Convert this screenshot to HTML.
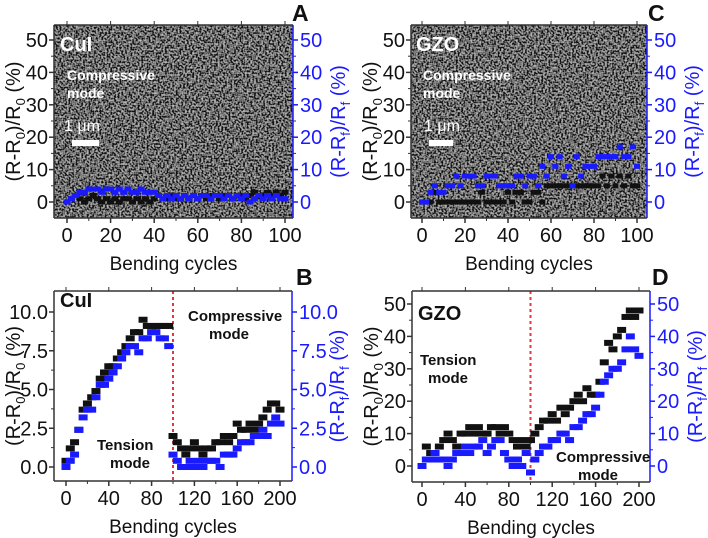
<!DOCTYPE html>
<html><head><meta charset="utf-8">
<style>
html,body{margin:0;padding:0;background:#fff;}
svg{display:block;font-family:"Liberation Sans",Arial,sans-serif;}
</style></head>
<body>
<svg id="fig" width="708" height="538" viewBox="0 0 708 538" xmlns="http://www.w3.org/2000/svg">
<defs>
<filter id="sem" x="0" y="0" width="100%" height="100%">
<feTurbulence type="fractalNoise" baseFrequency="0.55" numOctaves="1" seed="3"/>
<feColorMatrix type="matrix" values="2.6 0 0 0 -1.05  2.6 0 0 0 -1.05  2.6 0 0 0 -1.05  0 0 0 0 1"/>
</filter>
</defs>
</svg>
<script>
// Panel A (CuI, 0..100 step 2)
const aX = [0,2,4,6,8,10,12,14,16,18,20,22,24,26,28,30,32,34,36,38,40,42,44,46,48,50,52,54,56,58,60,62,64,66,68,70,72,74,76,78,80,82,84,86,88,90,92,94,96,98,100];
const aBlack = [0,1,2,1,0,1,2,1,0,1,0,1,0,1,1,0,1,0,1,0,1,2,1,1,2,1,1,2,1,2,1,2,1,2,2,1,2,2,1,2,2,1,2,3,2,2,3,2,3,2,3];
const aBlue = [0,1,2,3,3,4,4,4,3,4,4,3,4,3,4,3,3,4,3,3,3,2,1,2,1,2,1,2,1,2,1,2,2,1,2,2,1,2,1,2,1,2,0,1,2,1,2,1,2,1,1];
// Panel C (GZO, 0..100 step 2)
const cX = aX;
const cBlack = [0,0,0,3,0,0,0,0,0,0,0,0,0,0,3,0,0,0,0,0,3,0,3,3,0,0,3,3,0,5,5,5,5,5,5,5,5,5,5,5,5,5,8,5,8,5,8,5,8,5,5];
const cBlue = [0,0,3,5,3,3,5,5,8,5,8,8,8,5,5,8,8,8,5,5,5,5,8,8,5,8,8,5,11,8,14,11,14,8,11,5,14,8,11,11,11,14,14,14,14,14,17,14,14,17,11];
// Panel B (CuI, 0..200 step 4)
const bX = [0,4,8,12,16,20,24,28,32,36,40,44,48,52,56,60,64,68,72,76,80,84,88,92,96,100,104,108,112,116,120,124,128,132,136,140,144,148,152,156,160,164,168,172,176,180,184,188,192,196,200];
const bBlack = [0.4,1.2,1.6,2.4,3.7,4.1,4.5,4.9,5.7,6.1,6.5,6.5,7.0,7.4,7.8,8.3,8.7,8.7,9.5,9.1,9.1,9.1,9.1,9.1,9.1,2.0,1.6,1.2,0.8,1.2,1.6,1.2,0.8,1.2,1.2,1.6,1.6,2.0,1.6,2.0,2.8,2.4,2.4,2.8,2.4,2.8,3.2,3.7,4.1,4.1,3.7];
const bBlue = [0,0.4,0.8,2.4,3.2,3.7,3.7,4.5,5.3,5.3,5.7,6.1,6.5,7.0,7.4,7.8,7.8,7.4,8.3,8.3,8.7,8.7,8.3,8.3,7.8,0.8,0.4,0,0,0.4,0,0.4,0,0.4,0.4,0.4,0,0.8,0.8,0.8,1.2,1.6,1.6,1.6,2.0,2.0,2.4,2.0,2.8,3.2,2.8];
// Panel D (GZO, 0..200 step 4)
const dX = bX;
const dBlack = [0,6,4,4,6,8,10,8,6,10,10,12,10,12,10,10,12,12,10,12,10,8,6,8,6,8,10,12,14,14,16,14,18,16,18,20,22,20,24,22,22,26,32,38,36,40,42,46,48,46,48];
const dBlue = [0,2,2,4,2,2,0,2,4,4,6,4,6,6,8,4,6,8,8,4,2,0,2,0,4,-2,2,4,6,6,8,8,10,10,8,12,12,14,16,16,18,22,26,28,30,30,32,36,40,36,34];
// Tick labels
const tickA = [0,10,20,30,40,50];
const xTickA = [0,20,40,60,80,100];
const tickB = ["0.0","2.5","5.0","7.5","10.0"];
const tickBv = [0,2.5,5,7.5,10];
const xTickB = [0,40,80,120,160,200];
const tickD = [0,10,20,30,40,50];

const NS = "http://www.w3.org/2000/svg";
const svg = document.getElementById('fig');
const BLUE = "#1a1aff";
function mk(tag, attrs, parent){
  const e = document.createElementNS(NS, tag);
  for (const k in attrs) e.setAttribute(k, attrs[k]);
  (parent||svg).appendChild(e);
  return e;
}
function txt(s, x, y, size, fill, weight, anchor, parent){
  const t = mk('text', {x:x, y:y, 'font-size':size, fill:fill, 'font-weight':weight||'normal', 'text-anchor':anchor||'start'}, parent);
  t.textContent = s;
  return t;
}

function panel(p){
  const g = mk('g', {});
  
  
  const sx = v => p.x0 + (v - p.xmin) / (p.xmax - p.xmin) * (p.x1 - p.x0);
  const sy = v => p.y0 + (v - p.ymin) / (p.ymax - p.ymin) * (p.y1 - p.y0);
  if (p.sem){
    const bg = mk('rect', {x:p.L, y:p.T, width:p.R-p.L, height:p.B-p.T, fill:'#3a3a3a'}, g);
    
    
    mk('rect', {x:p.L, y:p.T, width:p.R-p.L, height:p.B-p.T, filter:'url(#sem)', opacity:0.7}, g);
  }
  if (p.divider !== undefined){
    const dl = mk('line', {x1:sx(p.divider), x2:sx(p.divider), y1:p.T, y2:p.B, stroke:'#e8353a', 'stroke-width':2, 'stroke-dasharray':'3,3'}, g);
    
    
  }
  const mw = p.mw, mh = p.mh;
  const sb = mk('g', {fill:'#111'}, g);
  
  
  p.xs.forEach((xv,i) => {
    const r = mk('rect', {x:sx(xv)-mw/2, y:sy(p.black[i])-mh/2, width:mw, height:mh}, sb);
    
    
  });
  const su = mk('g', {fill:BLUE}, g);
  
  
  p.xs.forEach((xv,i) => {
    const r = mk('rect', {x:sx(xv)-mw/2, y:sy(p.blue[i])-mh/2, width:mw, height:mh}, su);
    
    
  });
  mk('line', {x1:p.L, x2:p.R, y1:p.T, y2:p.T, stroke:'#333', 'stroke-width':1.5}, g);
  mk('line', {x1:p.L, x2:p.R, y1:p.B, y2:p.B, stroke:'#333', 'stroke-width':1.5}, g);
  mk('line', {x1:p.L, x2:p.L, y1:p.T, y2:p.B, stroke:'#333', 'stroke-width':1.5}, g);
  mk('line', {x1:p.R, x2:p.R, y1:p.T, y2:p.B, stroke:BLUE, 'stroke-width':1.5}, g);
  p.yt.forEach((v,i) => {
    const y = sy(v);
    mk('line', {x1:p.L-5, x2:p.L, y1:y, y2:y, stroke:'#333', 'stroke-width':1.5}, g);
    mk('line', {x1:p.R, x2:p.R+5, y1:y, y2:y, stroke:BLUE, 'stroke-width':1.5}, g);
    const lab = p.ytl ? p.ytl[i] : String(v);
    const tl = txt(lab, p.L-6, y+7, 20, '#111', 'normal', 'end', g);
    
    
    const tr = txt(lab, p.R+7, y+7, 20, BLUE, 'normal', 'start', g);
    
    
    if (i < p.yt.length-1){
      const ym = sy((v + p.yt[i+1])/2);
      mk('line', {x1:p.L-3, x2:p.L, y1:ym, y2:ym, stroke:'#333', 'stroke-width':1}, g);
      mk('line', {x1:p.R, x2:p.R+3, y1:ym, y2:ym, stroke:BLUE, 'stroke-width':1}, g);
    }
  });
  p.xt.forEach((v,i) => {
    const x = sx(v);
    mk('line', {x1:x, x2:x, y1:p.B, y2:p.B+5, stroke:'#333', 'stroke-width':1.5}, g);
    mk('line', {x1:x, x2:x, y1:p.T, y2:p.T-4, stroke:'#333', 'stroke-width':1}, g);
    const t = txt(String(v), x, p.B+24, 20, '#111', 'normal', 'middle', g);
    
    
    if (i < p.xt.length-1){
      const xm = sx((v + p.xt[i+1])/2);
      mk('line', {x1:xm, x2:xm, y1:p.B, y2:p.B+3, stroke:'#333', 'stroke-width':1}, g);
    }
  });
  const xt = txt('Bending cycles', (p.L+p.R)/2, p.B+52, 19, '#111', 'normal', 'middle', g);
  
  
  const cy = (p.T+p.B)/2;
  const yl = mk('text', {x:0, y:0, 'font-size':20, fill:'#111', 'text-anchor':'middle', transform:`translate(${p.L-34},${cy}) rotate(-90)`}, g);
  yl.innerHTML = '(R-R<tspan font-size="13" dy="5">0</tspan><tspan dy="-5">)/R</tspan><tspan font-size="13" dy="5">0</tspan><tspan dy="-5"> (%)</tspan>';
  
  
  const yr = mk('text', {x:0, y:0, 'font-size':20, fill:BLUE, 'text-anchor':'middle', transform:`translate(${p.R+52},${cy}) rotate(-90)`}, g);
  yr.innerHTML = '(R-R<tspan font-size="13" dy="5">f</tspan><tspan dy="-5">)/R</tspan><tspan font-size="13" dy="5">f</tspan><tspan dy="-5"> (%)</tspan>';
  
  
  const pl = txt(p.letter, p.letterX, p.letterY, 23, '#111', 'bold', 'start', g);
  
  
  return g;
}

panel({name:'panel-a', letter:'A', letterX:292, letterY:21, sem:true, L:54, R:293, T:25, B:218,
  x0:67, x1:285, xmin:0, xmax:100, y0:202, y1:40, ymin:0, ymax:50, mw:7, mh:5,
  xs:aX, black:aBlack, blue:aBlue, yt:tickA, xt:xTickA});
panel({name:'panel-c', letter:'C', letterX:648, letterY:21, sem:true, L:411, R:647, T:25, B:218,
  x0:422, x1:637, xmin:0, xmax:100, y0:202, y1:40, ymin:0, ymax:50, mw:6, mh:5,
  xs:cX, black:cBlack, blue:cBlue, yt:tickA, xt:xTickA});
panel({name:'panel-b', letter:'B', letterX:296, letterY:285, L:54, R:292, T:291, B:481,
  x0:66, x1:280, xmin:0, xmax:200, y0:467, y1:312, ymin:0, ymax:10, mw:9, mh:6, divider:100,
  xs:bX, black:bBlack, blue:bBlue, yt:tickBv, ytl:tickB, xt:xTickB});
panel({name:'panel-d', letter:'D', letterX:652, letterY:285, L:412, R:650, T:291, B:482,
  x0:422, x1:639, xmin:0, xmax:200, y0:466, y1:304, ymin:0, ymax:50, mw:9, mh:6, divider:100,
  xs:dX, black:dBlack, blue:dBlue, yt:tickD, xt:xTickB});

function ann(s,x,y,size,fill,w,name){
  const t = txt(s,x,y,size,fill,w,'start');
  
  
}
ann('CuI',60,51,20,'#fff','bold','label-cui-a');
ann('Compressive',67,80,14,'#fff','bold','label-compressive-a');
ann('mode',67,98,14,'#fff','bold','label-mode-a');
ann('1 μm',64,131,16,'#fff','normal','scale-label-a');
ann('GZO',416,51,20,'#fff','bold','label-gzo-c');
ann('Compressive',423,80,14,'#fff','bold','label-compressive-c');
ann('mode',423,98,14,'#fff','bold','label-mode-c');
ann('1 μm',424,131,16,'#fff','normal','scale-label-c');
const s1 = mk('rect',{x:72,y:140,width:27,height:6,fill:'#fff'});


const s2 = mk('rect',{x:429,y:140,width:24,height:6,fill:'#fff'});


ann('CuI',60,307,20,'#111','bold','label-cui-b');
ann('Compressive',188,321,15,'#111','bold','label-compressive-b');
ann('mode',209,339,15,'#111','bold','label-mode-b');
ann('Tension',97,450,15,'#111','bold','label-tension-b');
ann('mode',110,468,15,'#111','bold','label-mode-b2');
ann('GZO',418,320,20,'#111','bold','label-gzo-d');
ann('Tension',420,365,15,'#111','bold','label-tension-d');
ann('mode',428,383,15,'#111','bold','label-mode-d');
ann('Compressive',556,462,15,'#111','bold','label-compressive-d');
ann('mode',578,480,15,'#111','bold','label-mode-d2');
</script>
</body></html>
